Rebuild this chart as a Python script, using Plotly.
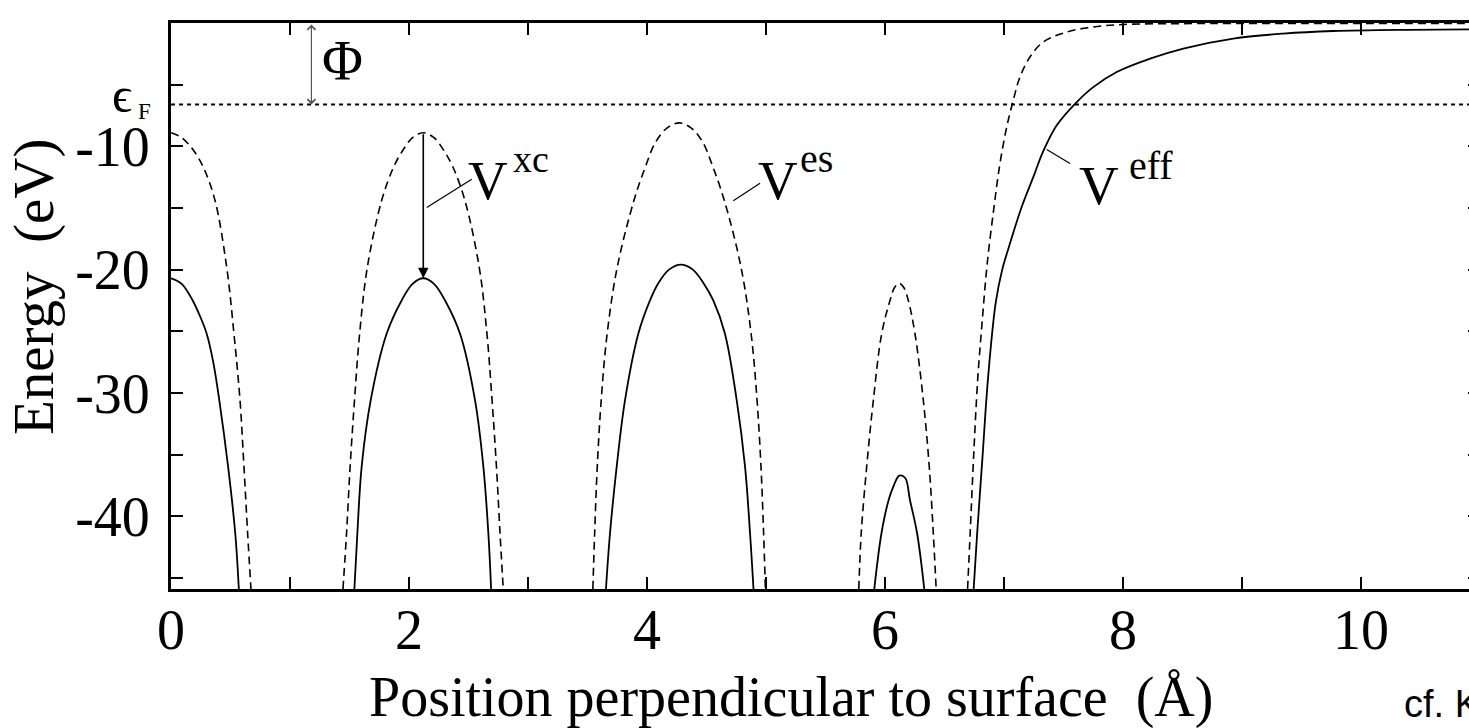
import plotly.graph_objects as go

# Electrostatic potential V_es (eV) across the slab; None separates the arches
es_x = [0.00, 0.09, 0.187, 0.272, 0.37, 0.468, 0.529, 0.58, 0.613, 0.644, 0.672, None,
        1.445, 1.475, 1.505, 1.542, 1.585, 1.65, 1.77, 1.87, 1.95, 2.03, 2.12, 2.21, 2.29,
        2.37, 2.47, 2.59, 2.655, 2.698, 2.735, 2.765, 2.792, None,
        3.545, 3.56, 3.582, 3.615, 3.665, 3.75, 3.89, 3.985, 4.07, 4.17, 4.27, 4.37, 4.47,
        4.555, 4.65, 4.79, 4.875, 4.925, 4.958, 4.98, 4.995, None,
        5.78, 5.80, 5.846, 5.902, 5.972, 6.042, 6.08, 6.12, 6.158, 6.196, 6.252, 6.322, 6.372,
        6.406, 6.43, None,
        6.694, 6.716, 6.745, 6.779, 6.816, 6.858, 6.915, 6.966, 7.023, 7.078, 7.134,
        7.218, 7.33, 7.527, 7.75, 8.0, 8.5, 9.5, 11.0]
es_y = [-8.9, -9.3, -10.3, -11.7, -14.4, -19.8, -25.2, -30.6, -36.0, -41.4, -45.9, None,
        -45.9, -41.4, -36.0, -30.6, -25.2, -19.8, -14.4, -11.7, -10.3, -9.3, -8.9, -9.3, -10.3,
        -11.7, -14.4, -19.8, -25.2, -30.6, -36.0, -41.4, -45.9, None,
        -45.9, -41.4, -36.0, -30.6, -25.2, -19.8, -14.4, -11.7, -9.7, -8.5, -8.1, -8.5, -9.7,
        -11.7, -14.4, -19.8, -25.2, -30.6, -36.0, -41.4, -45.9, None,
        -45.9, -41.4, -36.0, -30.6, -25.2, -22.5, -21.45, -21.1, -21.45, -22.5, -25.2, -30.6,
        -36.0, -41.4, -45.9, None,
        -45.9, -41.3, -35.1, -28.9, -24.3, -19.6, -15.0, -11.4, -8.43, -6.26, -4.38,
        -2.76, -1.54, -0.73, -0.32, -0.12, -0.05, -0.03, -0.03]

# Effective one-electron potential V_eff (eV)
eff_x = [0.00, 0.09, 0.182, 0.245, 0.30, 0.355, 0.406, 0.48, 0.54, 0.57, None,
         1.541, 1.566, 1.602, 1.678, 1.812, 1.938, 2.03, 2.12, 2.21, 2.303, 2.429, 2.555,
         2.625, 2.667, 2.69, None,
         3.655, 3.689, 3.745, 3.815, 3.927, 4.025, 4.095, 4.185, 4.285, 4.385, 4.475, 4.557,
         4.655, 4.754, 4.824, 4.866, 4.895, None,
         5.91, 5.97, 6.03, 6.07, 6.12, 6.17, 6.21, 6.27, 6.33, None,
         6.745, 6.775, 6.82, 6.865, 6.93, 6.985, 7.04, 7.149, 7.246, 7.33, 7.443, 7.597,
         7.75, 7.947, 8.227, 8.507, 8.927, 9.347, 9.767, 10.4, 11.0]
eff_y = [-20.7, -21.15, -22.5, -23.8, -25.2, -27.5, -30.6, -36.0, -41.4, -45.9, None,
         -45.9, -41.4, -36.0, -30.6, -25.2, -22.5, -21.15, -20.7, -21.15, -22.5, -25.2, -30.6,
         -36.0, -41.4, -45.9, None,
         -45.9, -41.4, -36.0, -30.6, -25.2, -22.5, -21.1, -20.0, -19.6, -20.0, -21.1, -22.5,
         -25.2, -30.6, -36.0, -41.4, -45.9, None,
         -45.9, -41.4, -38.7, -37.6, -36.7, -36.9, -38.7, -41.4, -45.9, None,
         -45.9, -41.3, -35.1, -28.9, -22.7, -20.0, -18.2, -14.9, -12.5, -10.4, -8.3, -6.55,
         -5.2, -3.97, -2.89, -2.07, -1.26, -0.86, -0.65, -0.55, -0.52]

E_F = -6.6          # Fermi level (eV)
X_RANGE = [0, 11]
Y_RANGE = [-45.9, 0]

x_tick_vals = [0, 2, 4, 6, 8, 10]
x_tick_text = ["0", "2", "4", "6", "8", "10"]
x_minor_vals = [1, 3, 5, 7, 9, 11]
y_tick_vals = [0, -10, -20, -30, -40]
y_tick_text = ["0", "-10", "-20", "-30", "-40"]
y_minor_vals = [-5, -15, -25, -35, -45]

SERIF = "Liberation Serif, Times New Roman, serif"
SANS = "Liberation Sans, Arial, sans-serif"

# Page geometry: plot area spans pixels 171..1480 horizontally, 23..589 vertically
FIG_W, FIG_H = 1600, 728
M_L, M_R, M_T, M_B = 171, 120, 23, 139
PW = FIG_W - M_L - M_R
PH = FIG_H - M_T - M_B


def paper(px, py):
    """Pixel position on the page -> paper coordinates."""
    return (px - M_L) / PW, (FIG_H - M_B - py) / PH


fig = go.Figure()
fig.add_trace(go.Scatter(x=es_x, y=es_y, mode="lines", connectgaps=False,
                         line=dict(color="black", width=1.6, dash="8px,5px",
                                   shape="spline", smoothing=1.0),
                         hoverinfo="skip"))
fig.add_trace(go.Scatter(x=eff_x, y=eff_y, mode="lines", connectgaps=False,
                         line=dict(color="black", width=1.8,
                                   shape="spline", smoothing=1.0),
                         hoverinfo="skip"))
fig.add_trace(go.Scatter(x=X_RANGE, y=[E_F, E_F], mode="lines",
                         line=dict(color="black", width=2, dash="4px,4px"),
                         hoverinfo="skip"))

axis_common = dict(showline=True, linewidth=3, linecolor="black", mirror="ticks",
                   ticks="inside", ticklen=12, tickwidth=2, tickcolor="black",
                   showgrid=False, zeroline=False,
                   tickfont=dict(family=SERIF, size=56, color="black"))

fig.update_xaxes(range=X_RANGE, tickmode="array", tickvals=x_tick_vals, ticktext=x_tick_text,
                 minor=dict(tickmode="array", tickvals=x_minor_vals, ticks="inside",
                            ticklen=12, tickwidth=2, tickcolor="black"),
                 ticklabelstandoff=-10, **axis_common)
fig.update_yaxes(range=Y_RANGE, tickmode="array", tickvals=y_tick_vals, ticktext=y_tick_text,
                 minor=dict(tickmode="array", tickvals=y_minor_vals, ticks="inside",
                            ticklen=12, tickwidth=2, tickcolor="black"),
                 ticklabelstandoff=7, **axis_common)

annotations = []


def text_at(x, y, txt, size, ref="data", family=SERIF, xanchor="center", angle=0):
    xr, yr = ("x", "y") if ref == "data" else ("paper", "paper")
    annotations.append(dict(x=x, y=y, xref=xr, yref=yr, text=txt, showarrow=False,
                            xanchor=xanchor, yanchor="middle", textangle=angle,
                            font=dict(family=family, size=size, color="black")))


# Work function: double arrow from the vacuum level down to the Fermi level
annotations.append(dict(x=1.18, y=E_F, ax=1.18, ay=0, xref="x", yref="y", axref="x", ayref="y",
                        text="", showarrow=True, arrowside="end+start", arrowhead=4,
                        startarrowhead=4, arrowsize=1.3, startarrowsize=1.3, arrowwidth=1.2,
                        arrowcolor="#555555", standoff=0, startstandoff=0))
text_at(1.441, -3.10, "Φ", 56)

# Exchange-correlation shift between the two potentials
annotations.append(dict(x=2.12, y=-20.7, ax=2.12, ay=-8.9, xref="x", yref="y", axref="x",
                        ayref="y", text="", showarrow=True, arrowhead=2, arrowsize=1.3,
                        arrowwidth=1.6, arrowcolor="black", standoff=0, startstandoff=0))

# Curve labels: large V with a raised tag
for lx, ly, txt, size in [(2.667, -12.75, "V", 55), (3.021, -11.06, "xc", 38),
                          (5.097, -12.75, "V", 55), (5.426, -11.0, "es", 40),
                          (7.798, -13.2, "V", 55), (8.239, -11.57, "eff", 40)]:
    text_at(lx, ly, txt, size)

# Fermi level label left of the axis
text_at(*paper(121.5, 95), "ϵ", 50, ref="paper")
text_at(*paper(144, 111), "F", 23, ref="paper")

# Axis titles and source note
text_at(*paper(791, 697), "Position perpendicular to surface\u00a0\u00a0(Å)", 56, ref="paper")
text_at(*paper(34, 287), "Energy\u00a0\u00a0(eV)", 57, ref="paper", angle=-90)
text_at(*paper(1402, 704), "cf. K", 38, ref="paper", family=SANS, xanchor="left")

# Leader lines from the labels to their curves
leaders = [((2.149, -14.96), (2.527, -12.67)),
           ((4.725, -14.42), (4.95, -13.0)),
           ((7.359, -10.26), (7.555, -11.39))]
shapes = [dict(type="line", xref="x", yref="y", x0=a[0], y0=a[1], x1=b[0], y1=b[1],
               line=dict(color="black", width=1.2)) for a, b in leaders]

fig.update_layout(width=FIG_W, height=FIG_H, autosize=False,
                  margin=dict(l=M_L, r=M_R, t=M_T, b=M_B, pad=0),
                  paper_bgcolor="white", plot_bgcolor="white", showlegend=False,
                  annotations=annotations, shapes=shapes,
                  font=dict(family=SERIF, color="black"))

fig.write_html("out.html", config={"displayModeBar": False},
               post_script="document.documentElement.style.overflow='hidden';"
                           "document.body.style.overflow='hidden';")
